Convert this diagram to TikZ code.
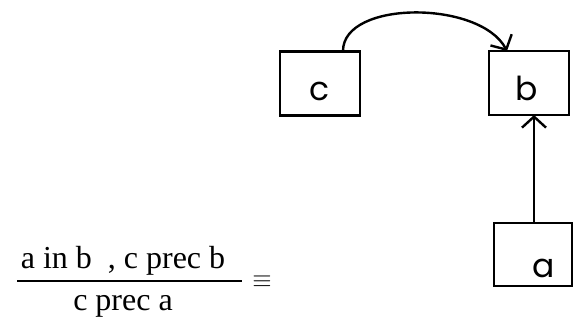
\documentclass[tikz,border=0pt]{standalone}
\usepackage{fontspec}
\setmainfont{Liberation Serif}
\newfontfamily\boxfont{Poppins}
\usetikzlibrary{arrows.meta}
\begin{document}
\begin{tikzpicture}[x=1pt,y=-1pt,
  boxnode/.style={draw,line width=2.4pt,minimum width=80pt,minimum height=64pt,inner sep=0pt,text depth=0pt,font=\boxfont\fontsize{33}{33}\selectfont},
  frac/.style={font=\fontsize{32}{32}\selectfont,inner sep=0pt,anchor=base},
  conn/.style={line width=2.4pt,-{Straight Barb[length=11pt,width=24pt,line width=2.4pt]}}]
\useasboundingbox (0,0) rectangle (573,322);
\node[boxnode,text height=33pt] (c) at (320,83.5) {c};
\node[boxnode,text height=34pt] (b) at (529,83) {\hspace*{-4pt}b};
\node[boxnode,minimum width=78pt,minimum height=63pt,text height=45pt] (a) at (533,254.5) {\hspace*{22pt}a};
\draw[conn] (a.north -| 534,0) -- (534,115);
\draw[conn] (343,51) .. controls (343,0) and (480,0) .. (507,51);
\node[frac] (num) at (123,268) {a in b\ \ , c prec b};
\node[frac] (den) at (123,310) {c prec a};
\coordinate (barl) at (17,281);
\coordinate (barr) at (242,281);
\draw[line width=1.5pt] (barl) -- (barr);
\node[frac,anchor=center,font=\fontsize{40}{40}\selectfont] (eq) at (262,282) {$\equiv$};
\end{tikzpicture}
\end{document}
